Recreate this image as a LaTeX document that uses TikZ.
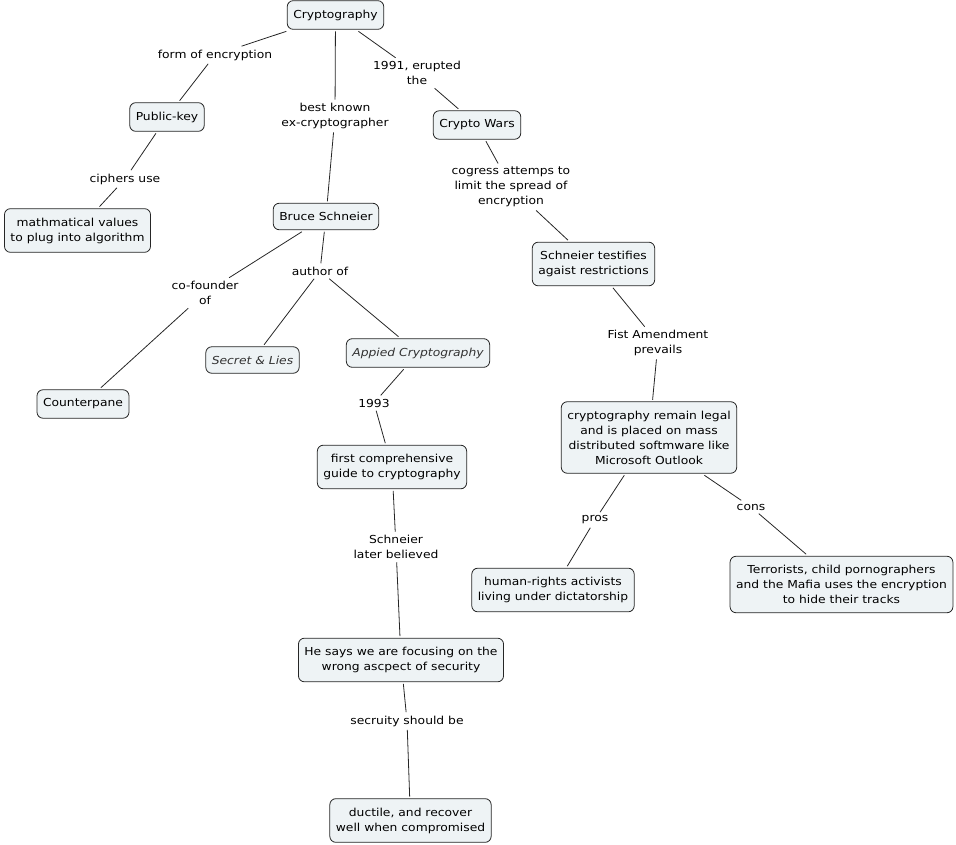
\documentclass[tikz,border=0pt]{standalone}
\usepackage{fontspec}
\setmainfont{DejaVu Sans}[FakeStretch=1.12]
\definecolor{boxfill}{RGB}{238,243,245}
\begin{document}
\begin{tikzpicture}[x=1pt,y=-1pt,
    concept/.style={draw=black!85,line width=0.8pt,fill=boxfill,rounded corners=6pt,align=center,
      font=\fontsize{11}{15}\selectfont,inner xsep=6pt,inner ysep=9pt,outer sep=2pt},
    booktitle/.style={concept,font=\fontsize{11}{15}\selectfont\itshape,text=black!80},
    linklabel/.style={align=center,font=\fontsize{11}{15}\selectfont,inner sep=1.5pt,outer sep=2pt},
    link/.style={draw=black!85,line width=0.8pt}]
  \useasboundingbox (0,0) rectangle (956,845);
  \node[concept] (crypt) at (335.5,15) {Cryptography};
  \node[concept] (pubkey) at (167,117) {Public-key};
  \node[concept] (mathval) at (77.5,230.5) {mathmatical values\\to plug into algorithm};
  \node[concept] (bruce) at (326,216.5) {Bruce Schneier};
  \node[concept] (cwars) at (477,125) {Crypto Wars};
  \node[concept] (testif) at (593.5,264) {Schneier testifies\\agaist restrictions};
  \node[concept] (counter) at (83,404) {Counterpane};
  \node[booktitle] (secret) at (252.5,360) {Secret \& Lies};
  \node[booktitle] (applied) at (418,353) {Appied Cryptography};
  \node[concept] (guide) at (392,467) {first comprehensive\\guide to cryptography};
  \node[concept] (legal) at (649,437.5) {cryptography remain legal\\and is placed on mass\\distributed softmware like\\Microsoft Outlook};
  \node[concept] (human) at (553,590) {human-rights activists\\living under dictatorship};
  \node[concept] (terror) at (841.5,584.5) {Terrorists, child pornographers\\and the Mafia uses the encryption\\to hide their tracks};
  \node[concept] (focus) at (401,660) {He says we are focusing on the\\wrong ascpect of security};
  \node[concept] (ductile) at (410.5,820.5) {ductile, and recover\\well when compromised};

  \node[linklabel] (lformenc) at (215,55) {form of encryption};
  \node[linklabel] (lciphers) at (125,179) {ciphers use};
  \node[linklabel] (lbest) at (335,116) {best known\\ex-cryptographer};
  \node[linklabel] (l1991) at (417,73) {1991, erupted\\the};
  \node[linklabel] (lcogress) at (511,187) {cogress attemps to\\limit the spread of\\encryption};
  \node[linklabel] (lfist) at (658,343) {Fist Amendment\\prevails};
  \node[linklabel] (lcofound) at (205,293) {co-founder\\of};
  \node[linklabel] (lauthor) at (320,271) {author of};
  \node[linklabel] (l1993) at (374,403) {1993};
  \node[linklabel] (lbelieved) at (396,547) {Schneier\\later believed};
  \node[linklabel] (lpros) at (595,520) {pros};
  \node[linklabel] (lcons) at (751,507) {cons};
  \node[linklabel] (lsecurity) at (407,721) {secruity should be};

  \draw[link] (crypt) -- (lformenc) -- (pubkey);
  \draw[link] (pubkey) -- (lciphers) -- (mathval);
  \draw[link] (crypt) -- (lbest) -- (bruce);
  \draw[link] (crypt) -- (l1991) -- (cwars);
  \draw[link] (cwars) -- (lcogress) -- (testif);
  \draw[link] (testif) -- (lfist) -- (legal);
  \draw[link] (bruce) -- (lcofound) -- (counter);
  \draw[link] (bruce) -- (lauthor) -- (secret);
  \draw[link] (lauthor) -- (applied);
  \draw[link] (applied) -- (l1993) -- (guide);
  \draw[link] (guide) -- (lbelieved) -- (focus);
  \draw[link] (focus) -- (lsecurity) -- (ductile);
  \draw[link] (legal) -- (lpros) -- (human);
  \draw[link] (legal) -- (lcons) -- (terror);
\end{tikzpicture}
\end{document}
